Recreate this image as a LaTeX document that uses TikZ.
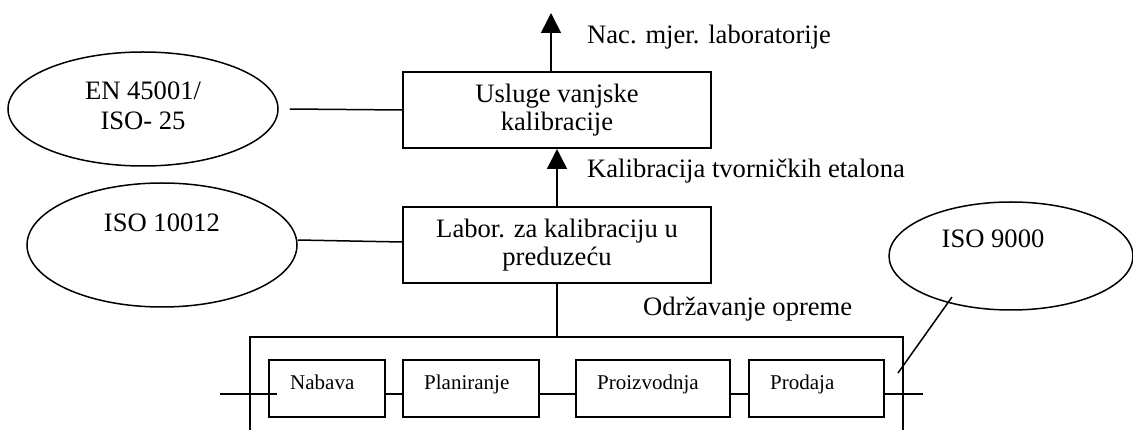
\documentclass[tikz,border=0pt]{standalone}
\usepackage{fontspec}
\setmainfont{Liberation Serif}
\usetikzlibrary{arrows.meta,shapes.geometric}
\tikzset{
  lw/.style={line width=1.5pt},
  bigbox/.style={draw, line width=2pt, minimum width=308pt, minimum height=76pt, inner sep=0pt, align=center, font=\fontsize{26.6}{28.5}\selectfont},
  smallbox/.style={draw, line width=2pt, minimum height=57pt, inner sep=0pt},
  oval/.style={draw, ellipse, line width=1.5pt, inner sep=0pt},
  bigtxt/.style={inner sep=0pt, font=\fontsize{26.6}{30}\selectfont},
  smalltxt/.style={inner sep=0pt, anchor=base west, font=\fontsize{21}{24}\selectfont},
  arr/.style={lw, -{Triangle[width=20pt,length=20pt]}}
}
\begin{document}
\begin{tikzpicture}[x=1pt, y=-1pt]
\useasboundingbox (0,0) rectangle (1133,430);
% main boxes
\node[bigbox] (b1) at (557,110) {Usluge vanjske\\kalibracije};
\node[bigbox] (b2) at (557,245) {Labor. za kalibraciju u\\preduze\'cu};
% ellipses
\node[oval, minimum width=270pt, minimum height=114pt] (e1) at (143,109) {};
\node[oval, minimum width=270pt, minimum height=124pt] (e2) at (162,245) {};
\node[oval, minimum width=244pt, minimum height=108pt] (e3) at (1011,256) {};
\node[bigtxt, align=center] (t1) at (143,106) {EN 45001/\\ISO- 25};
\node[bigtxt, anchor=base] (t2) at (162,232) {ISO 10012};
\node[bigtxt, anchor=base] (t3) at (993,248) {ISO 9000};
% labels
\node[bigtxt, anchor=base west] (l1) at (587,44) {Nac. mjer. laboratorije};
\node[bigtxt, anchor=base west] (l2) at (587,178) {Kalibracija tvorni\v{c}kih etalona};
\node[bigtxt, anchor=base west] (l3) at (643,316) {Odr\v{z}avanje opreme};
% arrows
\coordinate (topc) at (551,13);
\draw[arr] (b1.north -| topc) -- (topc);
\draw[arr] (b2.north) -- (b1.south);
% connectors ellipse-box
\draw[lw] ([xshift=11pt]e1.east) -- (b1.west);
\draw[lw] ([yshift=5pt]e2.east) -- ([yshift=3pt]b2.west);
% big open rectangle
\coordinate (bl) at (250,430);
\coordinate (btl) at (250,337);
\coordinate (btr) at (903,337);
\coordinate (br) at (903,430);
\draw[line width=2pt] (bl) -- (btl) -- (btr) -- (br);
\draw[lw] (b2.south) -- (b2.south |- btl);
% small boxes
\node[smallbox, minimum width=116pt] (n1) at (327,388.5) {};
\node[smallbox, minimum width=136pt] (n2) at (471,388.5) {};
\node[smallbox, minimum width=154pt] (n3) at (653,388.5) {};
\node[smallbox, minimum width=135pt] (n4) at (816.5,388.5) {};
\node[smalltxt] (s1) at (290,389) {Nabava};
\node[smalltxt] (s2) at (424,389) {Planiranje};
\node[smalltxt] (s3) at (597,389) {Proizvodnja};
\node[smalltxt] (s4) at (770,389) {Prodaja};
% chain line
\coordinate (chain) at (0,394);
\coordinate (cl) at (220,394);
\coordinate (cr) at (923,394);
\draw[lw] (cl) -- ([xshift=9pt]n1.west |- chain);
\draw[lw] (n1.east |- chain) -- (n2.west |- chain);
\draw[lw] (n2.east |- chain) -- (n3.west |- chain);
\draw[lw] (n3.east |- chain) -- (n4.west |- chain);
\draw[lw] (n4.east |- chain) -- (cr);
% ISO 9000 connector
\coordinate (p9a) at (898,373);
\coordinate (p9b) at (952,297);
\draw[lw] (p9a) -- (p9b);
\end{tikzpicture}
\end{document}
